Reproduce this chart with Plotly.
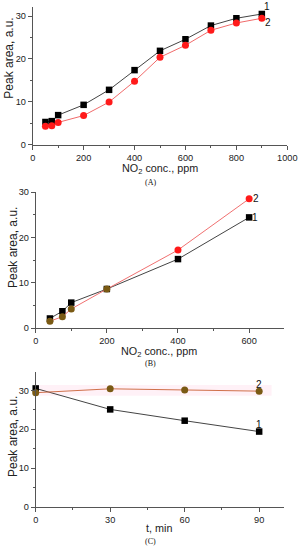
import plotly.graph_objects as go

# Panel A
a_x = [50, 75, 100, 200, 300, 400, 500, 600, 700, 800, 900]
a_s1 = [5.3, 5.5, 6.9, 9.3, 12.8, 17.4, 21.9, 24.6, 27.8, 29.5, 30.5]
a_s2 = [4.3, 4.4, 5.2, 6.8, 9.95, 14.8, 20.4, 23.2, 26.7, 28.4, 29.5]
# Panel B
b_x = [40, 75, 100, 200, 400, 600]
b_s1 = [2.1, 3.7, 5.6, 8.6, 15.2, 24.4]
b_s2 = [1.5, 2.5, 4.2, 8.6, 17.2, 28.5]
# Panel C
c_x = [0, 30, 60, 90]
c_s1 = [30.5, 25.1, 22.2, 19.4]
c_s2 = [29.4, 30.4, 30.1, 29.8]

W, H = 302, 550
def dx(a, b):
    return [a / W, b / W]
def dy(top, bot):
    return [1 - bot / H, 1 - top / H]
def px(x):
    return x / W
def py(y):
    return 1 - y / H

BLACK = "#000000"
RED = "#ff1a1a"
BROWN = "#7a5a14"
TICKF = dict(family="Liberation Sans, Arial, sans-serif", size=9.2, color="#222")
TITLEF = dict(family="Liberation Sans, Arial, sans-serif", size=10.8, color="#222")
YTITLEF = dict(family="Liberation Sans, Arial, sans-serif", size=12, color="#222")

fig = go.Figure()

def add_pair(xa, ya, xs, s1, s2, c2_marker, c2_line):
    fig.add_trace(go.Scatter(x=xs, y=s1, xaxis=xa, yaxis=ya, mode="lines+markers",
                             line=dict(color="#444", width=1),
                             marker=dict(symbol="square", size=6.5, color=BLACK),
                             cliponaxis=False, showlegend=False))
    fig.add_trace(go.Scatter(x=xs, y=s2, xaxis=xa, yaxis=ya, mode="lines+markers",
                             line=dict(color=c2_line, width=1),
                             marker=dict(symbol="circle", size=7, color=c2_marker),
                             cliponaxis=False, showlegend=False))

add_pair("x", "y", a_x, a_s1, a_s2, RED, "#f06a6a")
b_marker_cols = [BROWN, BROWN, BROWN, BROWN, RED, RED]
add_pair("x2", "y2", b_x, b_s1, b_s2, b_marker_cols, "#f07070")
add_pair("x3", "y3", c_x, c_s1, c_s2, BROWN, "#d0704a")

def xaxis(domain, anchor, rng, dtick, minor):
    return dict(domain=domain, anchor=anchor, range=rng, dtick=dtick, tick0=0,
                showline=True, linecolor="#555", linewidth=1, ticks="outside",
                ticklen=4, tickcolor="#555", showgrid=False, zeroline=False,
                automargin=False,
                minor=dict(dtick=minor, ticks="outside", ticklen=2, tickcolor="#555"),
                tickfont=TICKF)

def yaxis(domain, anchor, rng):
    return dict(domain=domain, anchor=anchor, range=rng, dtick=10, tick0=0,
                showline=True, linecolor="#555", linewidth=1, ticks="outside",
                ticklen=4, tickcolor="#555", showgrid=False, zeroline=False,
                automargin=False,
                minor=dict(dtick=5, ticks="outside", ticklen=2, tickcolor="#555"),
                tickfont=TICKF)

fig.update_layout(
    width=W, height=H, margin=dict(l=0, r=0, t=0, b=0, pad=0, autoexpand=False),
    plot_bgcolor="white", paper_bgcolor="white",
    xaxis=xaxis(dx(32.7, 287.3), "y", [0, 1000], 200, 100),
    yaxis=yaxis(dy(6.7, 144.7), "x", [0, 32.2]),
    xaxis2=xaxis(dx(35.7, 284), "y2", [0, 698], 200, 100),
    yaxis2=yaxis(dy(192, 328), "x2", [0, 30]),
    xaxis3=xaxis(dx(35.7, 284), "y3", [0, 100], 30, 15),
    yaxis3=yaxis(dy(371.7, 507), "x3", [0, 34.8]),
)

# faint pink band in panel C
fig.add_shape(type="rect", xref="x3", yref="y3", x0=0, x1=95, y0=28.6, y1=31.4,
              fillcolor="rgba(255,120,180,0.10)", line=dict(width=0), layer="below")

def note(x, y, t, font, angle=0):
    fig.add_annotation(x=px(x), y=py(y), xref="paper", yref="paper", text=t,
                       xanchor="center", yanchor="middle", textangle=angle,
                       showarrow=False, font=font)

# axis titles
for x, y, t in [(160, 168.5, "NO<sub>2</sub> conc., ppm"), (159, 351.8, "NO<sub>2</sub> conc., ppm"),
                (159, 528, "t, min")]:
    note(x, y, t, TITLEF)
for x, y in [(9, 58.7), (13, 248), (13, 437)]:
    note(x, y, "Peak area, a.u.", YTITLEF, -90)

# series labels
LABF = dict(family="Liberation Sans, Arial, sans-serif", size=10, color="#111")
for x, y, t in [(267, 6.5, "1"), (267.5, 22.7, "2"), (255.5, 198.3, "2"), (255, 217.5, "1"),
                (259, 384, "2"), (259, 424, "1")]:
    note(x, y, t, LABF)

PF = dict(family="Liberation Serif, Times New Roman, serif", size=8, color="#111")
for y, t in [(182.5, "(A)"), (363.5, "(B)"), (541.5, "(C)")]:
    note(150, y, t, PF)

fig.write_html("out.html", config={"displayModeBar": False},
               post_script="document.body.style.margin='0';")
